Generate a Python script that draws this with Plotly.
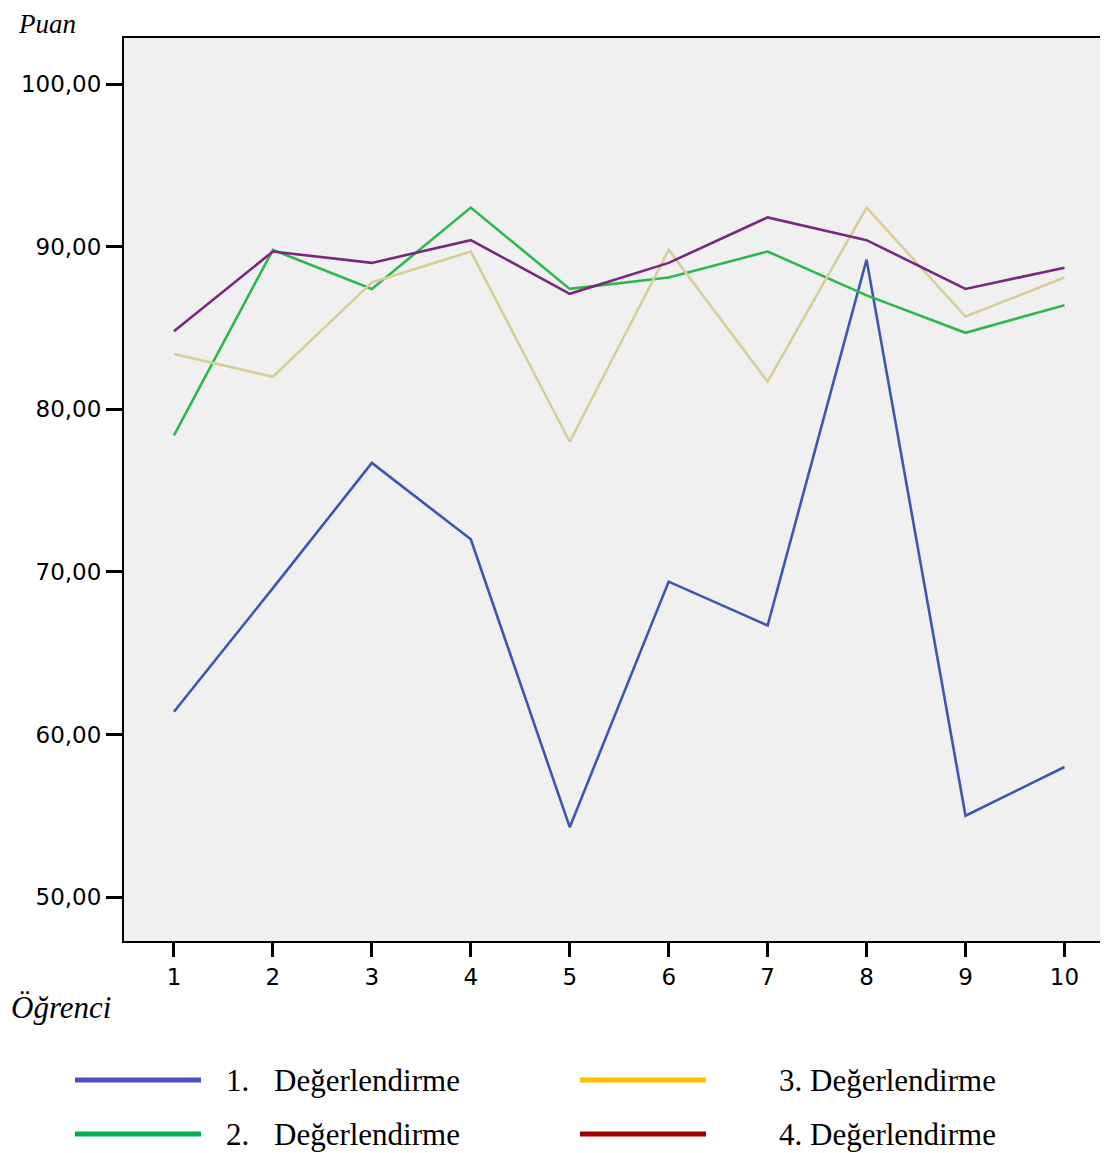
import plotly.graph_objects as go

students = [1, 2, 3, 4, 5, 6, 7, 8, 9, 10]
deg1 = [61.4, 69.0, 76.7, 72.0, 54.3, 69.4, 66.7, 89.2, 55.0, 58.0]
deg2 = [78.4, 89.8, 87.4, 92.4, 87.4, 88.1, 89.7, 87.0, 84.7, 86.4]
deg3 = [83.4, 82.0, 87.8, 89.7, 78.0, 89.8, 81.7, 92.4, 85.7, 88.1]
deg4 = [84.8, 89.7, 89.0, 90.4, 87.1, 89.0, 91.8, 90.4, 87.4, 88.7]

series_names = ["1.   Değerlendirme", "2.   Değerlendirme", "3. Değerlendirme", "4. Değerlendirme"]
line_colors = ["#3D56B0", "#2DB84B", "#D6CF95", "#7A2682"]
legend_colors = ["#4A4FC6", "#00B050", "#FFC000", "#A00000"]

y_ticks = [50, 60, 70, 80, 90, 100]
y_ticktext = ["50,00", "60,00", "70,00", "80,00", "90,00", "100,00"]

fig = go.Figure()
for vals, name, col in zip([deg1, deg2, deg3, deg4], series_names, line_colors):
    fig.add_trace(go.Scatter(x=students, y=vals, mode="lines", name=name,
                             line=dict(color=col, width=2.6), showlegend=False))

OFF = 8  # page body margin
W, H = 1108 - OFF, 1153 - OFF
L, R, T, B = 124 - OFF, 0, 38 - OFF, 212
pw, ph = W - L - R, H - T - B

def px(xp):
    return (xp - OFF - L) / pw

def py(yp):
    return (H + OFF - B - yp) / ph

serif = "Liberation Serif, Times New Roman, serif"

annotations = [
    dict(text="<i>Puan</i>", x=px(17), y=py(8), xref="paper", yref="paper",
         xanchor="left", yanchor="top", showarrow=False, borderpad=0,
         font=dict(family=serif, size=27, color="black")),
    dict(text="<i>Öğrenci</i>", x=px(9), y=py(1007), xref="paper", yref="paper",
         xanchor="left", yanchor="middle", showarrow=False,
         font=dict(family=serif, size=31, color="black")),
]

shapes = []
leg_pos = [(75, 1080, 224, 272), (75, 1134, 224, 272), (580, 1080, 777, None), (580, 1134, 777, None)]
for (lx, ly, tx, tx2), name, col in zip(leg_pos, series_names, legend_colors):
    shapes.append(dict(type="line", xref="paper", yref="paper",
                       x0=px(lx), x1=px(lx + 126), y0=py(ly), y1=py(ly),
                       line=dict(color=col, width=5)))
    if tx2 is not None:
        num, word = name.split()
        annotations.append(dict(text=num, x=px(tx), y=py(ly), xref="paper", yref="paper",
                                xanchor="left", yanchor="middle", showarrow=False,
                                font=dict(family=serif, size=31, color="black")))
        annotations.append(dict(text=word, x=px(tx2), y=py(ly), xref="paper", yref="paper",
                                xanchor="left", yanchor="middle", showarrow=False,
                                font=dict(family=serif, size=31, color="black")))
    else:
        annotations.append(dict(text=name, x=px(tx), y=py(ly), xref="paper", yref="paper",
                                xanchor="left", yanchor="middle", showarrow=False,
                                font=dict(family=serif, size=31, color="black")))

fig.update_layout(
    width=W, height=H,
    margin=dict(l=L, r=R, t=T, b=B),
    paper_bgcolor="white",
    plot_bgcolor="#F0F0F0",
    annotations=annotations,
    shapes=shapes,
    xaxis=dict(range=[0.495, 10.44], tickvals=students, ticktext=[str(s) for s in students],
               showgrid=False, zeroline=False, showline=True, linecolor="black", linewidth=2,
               mirror=True, ticks="outside", ticklen=14, tickwidth=3, tickcolor="black",
               tickfont=dict(family="DejaVu Sans, Arial, sans-serif", size=23, color="black")),
    yaxis=dict(range=[47.3, 102.83], tickvals=y_ticks, ticktext=y_ticktext,
               showgrid=False, zeroline=False, showline=True, linecolor="black", linewidth=2,
               ticks="outside", ticklen=16, tickwidth=2.5, tickcolor="black",
               tickfont=dict(family="DejaVu Sans, Arial, sans-serif", size=23, color="black")),
)

fig.write_html("out.html")
